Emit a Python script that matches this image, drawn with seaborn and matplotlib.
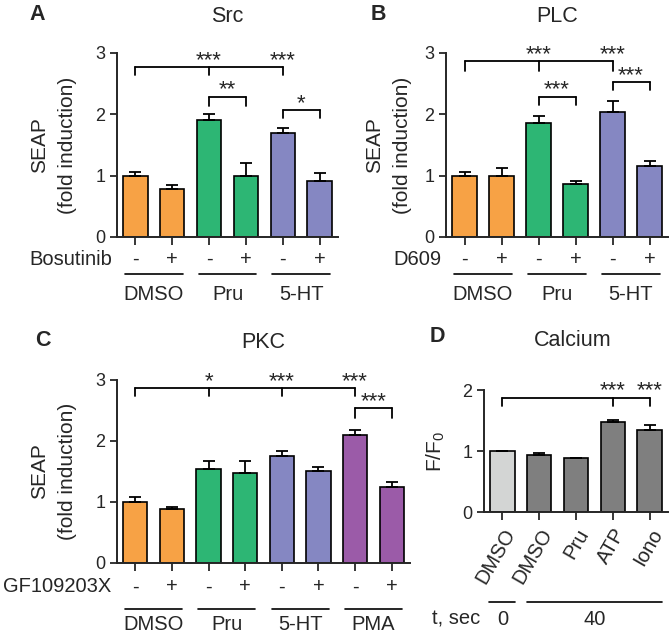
import numpy as np
import matplotlib
matplotlib.use("Agg")
import matplotlib.pyplot as plt
import matplotlib.transforms as mtransforms
import seaborn as sns

sns.set_style("ticks")
plt.rcParams['font.family'] = ['Liberation Sans', 'DejaVu Sans']
plt.rcParams['mathtext.fontset'] = 'custom'
plt.rcParams['mathtext.rm'] = 'Liberation Sans'

ORANGE = '#F7A245'
GREEN = '#2DB674'
BLUE = '#8587C2'
PURPLE = '#9B5BA8'
LGRAY = '#D3D5D4'
DGRAY = '#7F7F7F'

# ---- data ----
src_vals = [1.0, 0.78, 1.90, 1.00, 1.70, 0.92]
src_err = [0.065, 0.06, 0.10, 0.20, 0.08, 0.12]
plc_vals = [1.0, 1.0, 1.86, 0.87, 2.03, 1.16]
plc_err = [0.06, 0.13, 0.11, 0.05, 0.19, 0.08]
pkc_vals = [1.0, 0.89, 1.54, 1.47, 1.76, 1.50, 2.10, 1.25]
pkc_err = [0.08, 0.02, 0.13, 0.20, 0.08, 0.08, 0.08, 0.07]
ca_vals = [1.0, 0.94, 0.88, 1.48, 1.35]
ca_err = [0.0, 0.03, 0.01, 0.03, 0.08]

groups3 = ['DMSO', 'Pru', '5-HT']
groups4 = ['DMSO', 'Pru', '5-HT', 'PMA']
signs = ['-', '+']
ca_labels = ['DMSO', 'DMSO', 'Pru', 'ATP', 'Iono']
ca_time = ['0', '40']

FS = 14.5
TICKFS = 13


def bars(ax, vals, errs, colors, names):
    n = len(vals)
    sns.barplot(x=names, y=vals, hue=names, palette=colors, legend=False,
                width=0.66, edgecolor='black', linewidth=1.2, ax=ax,
                order=names, hue_order=names, saturation=1)
    ax.errorbar(np.arange(n), vals, yerr=[np.zeros(n), errs], fmt='none',
                ecolor='black', elinewidth=1.3, capsize=4, capthick=1.3, zorder=1)
    ax.set_xlim(-0.5, n - 0.5)
    sns.despine(ax=ax)
    for s in ['left', 'bottom']:
        ax.spines[s].set_linewidth(1.4)
    ax.tick_params(axis='both', width=1.3, length=5, labelsize=TICKFS)
    ax.tick_params(axis='x', length=6)
    ax.set_xlabel('')


def bracket(ax, xs, y, drop, stars, star_x):
    ax.plot([xs[0], xs[-1]], [y, y], color='black', lw=1.3, clip_on=False)
    for x in xs:
        ax.plot([x, x], [y, y - drop], color='black', lw=1.3, clip_on=False)
    for s, x in zip(stars, star_x):
        ax.text(x, y + 0.02, s, ha='center', va='baseline', fontsize=16,
                clip_on=False)


def treatment_rows(ax, name, n, groups, y_sign, y_line, y_group):
    tr = mtransforms.blended_transform_factory(ax.transData, ax.transAxes)
    ax.set_xticks(range(n))
    ax.set_xticklabels([])
    for i in range(n):
        ax.text(i, y_sign, signs[i % 2], transform=tr, ha='center',
                va='center', fontsize=FS)
    ax.text(-0.02, y_sign, name, transform=ax.transAxes, ha='right',
            va='center', fontsize=FS)
    for g, label in enumerate(groups):
        c = 2 * g + 0.5
        ax.plot([c - 0.78, c + 0.78], [y_line, y_line], color='black', lw=1.2,
                transform=tr, clip_on=False)
        ax.text(c, y_group, label, transform=tr, ha='center', va='center',
                fontsize=FS)


fig = plt.figure(figsize=(6.72, 6.33), dpi=100)
axA = fig.add_axes([0.1741, 0.6256, 0.3289, 0.2907])
axB = fig.add_axes([0.6637, 0.6256, 0.3304, 0.2907])
axC = fig.add_axes([0.1741, 0.1106, 0.4360, 0.2891])
axD = fig.add_axes([0.7202, 0.1911, 0.2738, 0.1927])

col6 = [ORANGE, ORANGE, GREEN, GREEN, BLUE, BLUE]
col8 = col6 + [PURPLE, PURPLE]

# A: Src
names = [f'{g} {s}' for g in groups3 for s in signs]
bars(axA, src_vals, src_err, col6, names)
axA.set_ylim(0, 3)
axA.set_yticks([0, 1, 2, 3])
treatment_rows(axA, 'Bosutinib', 6, groups3, -0.12, -0.20, -0.31)
bracket(axA, [0, 2, 4], 2.765, 0.13, ['***', '***'], [2, 4])
bracket(axA, [2, 3], 2.29, 0.15, ['**'], [2.5])
bracket(axA, [4, 5], 2.07, 0.13, ['*'], [4.5])
axA.text(0.5, 1.2, 'Src', transform=axA.transAxes, ha='center', va='center', fontsize=15.5)

# B: PLC
bars(axB, plc_vals, plc_err, col6, names)
axB.set_ylim(0, 3)
axB.set_yticks([0, 1, 2, 3])
treatment_rows(axB, 'D609', 6, groups3, -0.12, -0.20, -0.31)
bracket(axB, [0, 2, 4], 2.863, 0.15, ['***', '***'], [2, 4])
bracket(axB, [2, 3], 2.29, 0.145, ['***'], [2.5])
bracket(axB, [4, 5], 2.526, 0.136, ['***'], [4.5])
axB.text(0.5, 1.2, 'PLC', transform=axB.transAxes, ha='center', va='center', fontsize=15.5)

# C: PKC
names8 = [f'{g} {s}' for g in groups4 for s in signs]
bars(axC, pkc_vals, pkc_err, col8, names8)
axC.set_ylim(0, 3)
axC.set_yticks([0, 1, 2, 3])
treatment_rows(axC, 'GF109203X', 8, groups4, -0.13, -0.25, -0.335)
bracket(axC, [0, 2, 4, 6], 2.864, 0.125, ['*', '***', '***'], [2, 4, 6])
bracket(axC, [6, 7], 2.537, 0.167, ['***'], [6.5])
axC.text(0.5, 1.207, 'PKC', transform=axC.transAxes, ha='center', va='center', fontsize=15.5)

# D: Calcium
namesD = [f'{l}{i}' for i, l in enumerate(ca_labels)]
bars(axD, ca_vals, ca_err, [LGRAY] + [DGRAY] * 4, namesD)
axD.set_ylim(0, 2)
axD.set_yticks([0, 1, 2])
axD.set_xticks(range(5))
axD.set_xticklabels(ca_labels, rotation=60, ha='right', rotation_mode='anchor',
                    fontsize=FS)
bracket(axD, [0, 3, 4], 1.874, 0.137, ['***', '***'], [3, 4])
trD = mtransforms.blended_transform_factory(axD.transData, axD.transAxes)
axD.plot([-0.35, 0.33], [-0.74, -0.74], color='black', lw=1.2, transform=trD, clip_on=False)
axD.plot([0.66, 4.34], [-0.74, -0.74], color='black', lw=1.2, transform=trD, clip_on=False)
axD.text(0, -0.88, ca_time[0], transform=trD, ha='center', va='center', fontsize=FS)
axD.text(2.5, -0.88, ca_time[1], transform=trD, ha='center', va='center', fontsize=FS)
axD.text(-0.02, -0.88, 't, sec', transform=axD.transAxes, ha='right', va='center', fontsize=FS)
axD.text(0.48, 1.41, 'Calcium', transform=axD.transAxes, ha='center', va='center', fontsize=15.5)

# y labels (coords give the right edge of the rotated label)
for ax, xc in [(axA, -0.18), (axB, -0.153), (axC, -0.137)]:
    ax.set_ylabel('SEAP\n(fold induction)', fontsize=15, linespacing=1.6)
    ax.yaxis.set_label_coords(xc, 0.5)
axD.set_ylabel(r'F/F$\mathregular{_0}$', fontsize=15)
axD.yaxis.set_label_coords(-0.2, 0.5)

# panel letters
for letter, x, y in [('A', 37, 15), ('B', 378, 15), ('C', 43, 340), ('D', 437, 337)]:
    fig.text(x / 672, 1 - y / 633, letter, fontsize=15.5, fontweight='bold',
             ha='center', va='center')

fig.savefig('out.png', dpi=100)
